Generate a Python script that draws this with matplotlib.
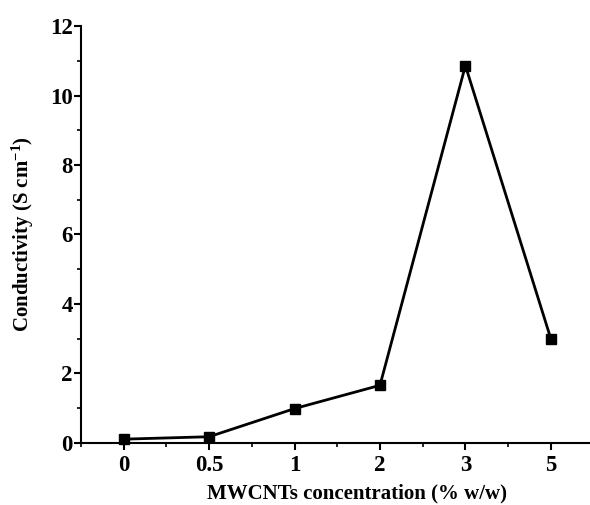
import numpy as np
import matplotlib
matplotlib.use('Agg')
import matplotlib.pyplot as plt
from matplotlib.ticker import MultipleLocator

# conductivity vs. MWCNT loading
concentrations = ['0', '0.5', '1', '2', '3', '5']
conductivity = [0.11, 0.18, 0.99, 1.66, 10.86, 3.0]

plt.rcParams['font.family'] = ['Liberation Serif', 'DejaVu Serif']
plt.rcParams['font.weight'] = 'bold'
plt.rcParams['mathtext.default'] = 'regular'

fig = plt.figure(figsize=(5.9, 5.05), dpi=100)
ax = fig.add_axes([0.1373, 0.1228, 0.8687, 0.8257])

pos = np.arange(len(concentrations))
ax.plot(pos, conductivity, color='black', lw=2.0, marker='s', ms=6.5,
        mfc='black', mec='black', clip_on=False, zorder=3)

ax.set_xlim(-0.5, 5.5)
ax.set_ylim(0, 12)
ax.set_xticks(pos)
ax.set_xticklabels(concentrations)
ax.xaxis.set_minor_locator(MultipleLocator(0.5))
ax.yaxis.set_major_locator(MultipleLocator(2))
ax.yaxis.set_minor_locator(MultipleLocator(1))

for side in ['top', 'right']:
    ax.spines[side].set_visible(False)
for side in ['left', 'bottom']:
    ax.spines[side].set_linewidth(1.5)

ax.tick_params(which='major', direction='out', length=5, width=1.5,
               labelsize=16.5)
ax.tick_params(axis='x', which='major', pad=4)
ax.tick_params(axis='y', which='major', pad=1)
ax.tick_params(which='minor', direction='out', length=3, width=1.2)

ax.set_xlabel('MWCNTs concentration (% w/w)', fontsize=15, fontweight='bold')
ax.xaxis.set_label_coords(0.5385, -0.097)
ax.set_ylabel('Conductivity (S cm$^{-1}$)', fontsize=15, fontweight='bold',
              labelpad=10)

fig.savefig('out.png', dpi=100)
